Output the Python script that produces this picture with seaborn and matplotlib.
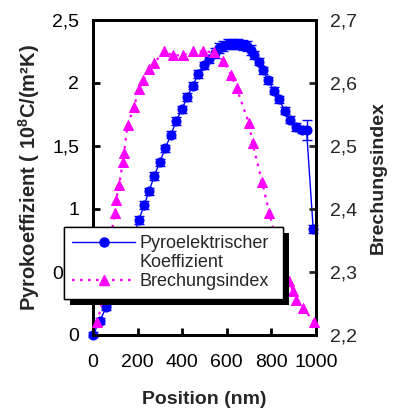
import matplotlib
matplotlib.use("Agg")
import matplotlib.pyplot as plt
import matplotlib.patheffects as pe
from matplotlib.lines import Line2D
import pandas as pd
import seaborn as sns

# pyroelectric coefficient (left axis)
pos_pyro = [0, 30, 60, 85, 110, 135, 160, 185, 205, 230, 251, 275, 299, 324, 350,
            374, 399, 423, 448, 472, 498, 522, 547, 566, 584, 607, 629, 652, 671,
            689, 707, 722, 744, 764, 786, 812, 834, 861, 883, 910, 936, 958, 988]
pyro = [0, 0.11, 0.22, 0.33, 0.45, 0.57, 0.68, 0.80, 0.91, 1.03, 1.14, 1.26, 1.37,
        1.48, 1.59, 1.70, 1.79, 1.89, 1.98, 2.07, 2.14, 2.19, 2.24, 2.28, 2.29,
        2.31, 2.31, 2.31, 2.30, 2.29, 2.26, 2.22, 2.17, 2.10, 2.02, 1.94, 1.87,
        1.78, 1.71, 1.65, 1.63, 1.63, 0.84]
pyro_err = [0.02, 0.02, 0.02, 0.02, 0.02, 0.02, 0.02, 0.02, 0.03, 0.03, 0.03, 0.03,
            0.03, 0.03, 0.03, 0.03, 0.03, 0.03, 0.03, 0.03, 0.03, 0.03, 0.04, 0.04,
            0.04, 0.04, 0.04, 0.04, 0.04, 0.04, 0.04, 0.03, 0.03, 0.03, 0.03, 0.03,
            0.03, 0.03, 0.03, 0.03, 0.03, 0.08, 0.03]

# refractive index (right axis)
pos_index = [20, 45, 65, 82, 99, 103, 118, 133, 139, 155, 184, 205, 226, 252, 274,
             320, 357, 405, 450, 492, 543, 584, 619, 644, 700, 716, 759, 791, 822,
             852, 880, 898, 913, 943, 991]
index = [2.22, 2.26, 2.31, 2.36, 2.394, 2.414, 2.438, 2.474, 2.489, 2.533, 2.562,
         2.590, 2.605, 2.623, 2.632, 2.650, 2.644, 2.644, 2.650, 2.650, 2.649,
         2.635, 2.613, 2.592, 2.536, 2.504, 2.442, 2.394, 2.35, 2.31, 2.285, 2.269,
         2.256, 2.242, 2.221]

x_ticks = [0, 200, 400, 600, 800, 1000]
left_ticks = [0, 0.5, 1, 1.5, 2, 2.5]
left_labels = ["0", "0,5", "1", "1,5", "2", "2,5"]
right_ticks = [2.2, 2.3, 2.4, 2.5, 2.6, 2.7]
right_labels = ["2,2", "2,3", "2,4", "2,5", "2,6", "2,7"]

sns.set_style("ticks")
plt.rcParams["font.family"] = ["Liberation Sans", "DejaVu Sans"]
plt.rcParams["mathtext.fontset"] = "custom"
plt.rcParams["mathtext.rm"] = "Liberation Sans"
plt.rcParams["mathtext.bf"] = "Liberation Sans:bold"

blue = "#0000FF"
magenta = "#FF00FF"
fs = 14
fs_leg = 13

df_p = pd.DataFrame({"pos": pos_pyro, "val": pyro, "err": pyro_err})
df_n = pd.DataFrame({"pos": pos_index, "val": index})

fig = plt.figure(figsize=(4.06, 4.17), dpi=100)
ax = fig.add_axes([0.229, 0.197, 0.549, 0.755])
ax2 = ax.twinx()

ax.errorbar(df_p["pos"], df_p["val"], yerr=df_p["err"], fmt="none", ecolor=blue,
            elinewidth=1, capsize=3.5, capthick=1, clip_on=False, zorder=2)
sns.lineplot(data=df_p, x="pos", y="val", ax=ax, color=blue, lw=1, marker="o",
             markersize=6.5, markeredgecolor=blue, sort=False, clip_on=False,
             zorder=3)
sns.lineplot(data=df_n, x="pos", y="val", ax=ax2, color=magenta, lw=1.6,
             linestyle=(0, (1.2, 2.4)), marker="^", markersize=7.5,
             markeredgecolor=magenta, sort=False, clip_on=False, zorder=3)

ax.set_xlim(0, 1000)
ax.set_ylim(0, 2.5)
ax2.set_ylim(2.2, 2.7)
ax.set_xticks(x_ticks)
ax.set_xticklabels([str(t) for t in x_ticks])
ax.set_yticks(left_ticks)
ax.set_yticklabels(left_labels)
ax2.set_yticks(right_ticks)
ax2.set_yticklabels(right_labels)

for a in (ax, ax2):
    for s in a.spines.values():
        s.set_linewidth(2)
        s.set_color("black")
ax.tick_params(axis="both", direction="in", length=5, width=2, labelsize=fs,
               colors="black")
ax.tick_params(axis="y", pad=10)
ax.tick_params(axis="x", pad=14)
ax2.tick_params(axis="y", direction="in", length=5, width=2, labelsize=fs, pad=10)

ax.set_xlabel("Position (nm)", fontsize=fs, fontweight="bold", labelpad=14)
ax.set_ylabel(r"Pyrokoeffizient ( 10$^{\mathbf{8}}$C/(m²K)", fontsize=14.5,
              fontweight="bold", labelpad=7)
ax2.set_ylabel("Brechungsindex", fontsize=fs, fontweight="bold", labelpad=9)

handles = [
    Line2D([], [], color=blue, lw=1, marker="o", markersize=6.5),
    Line2D([], [], linestyle="none"),
    Line2D([], [], color=magenta, lw=1.6, linestyle=(0, (1.2, 2.4)), marker="^",
           markersize=7.5),
]
labels = ["Pyroelektrischer", "Koeffizient", "Brechungsindex"]
leg = ax2.legend(handles, labels, loc="upper left",
                 bbox_to_anchor=(64 / 406, 1 - 297 / 417, 219 / 406, 70 / 417),
                 bbox_transform=fig.transFigure, mode="expand", fontsize=fs_leg,
                 frameon=True, fancybox=False, borderaxespad=0, borderpad=0.45,
                 handlelength=3.5, handletextpad=0.25, labelspacing=0.12,
                 framealpha=1)
frame = leg.get_frame()
frame.set_edgecolor("black")
frame.set_linewidth(1)
frame.set_path_effects([pe.withSimplePatchShadow(offset=(4.5, -4.5),
                                                 shadow_rgbFace="black", alpha=1.0),
                        pe.Normal()])
leg.set_zorder(10)

fig.savefig("out.png", dpi=100)
